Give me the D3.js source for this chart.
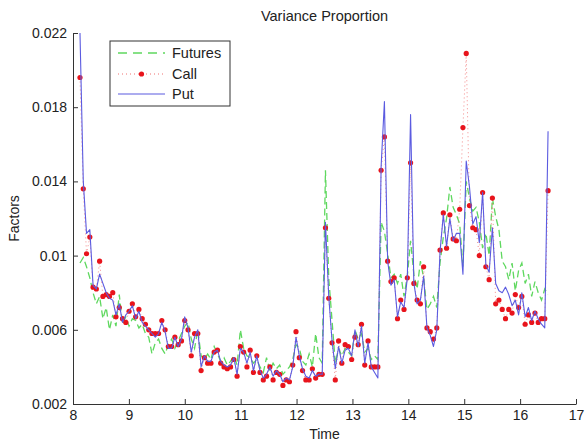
<!DOCTYPE html>
<html>
<head>
<meta charset="utf-8">
<script src="https://cdn.jsdelivr.net/npm/d3@7"></script>
<style>
  body { margin: 0; background: #fff; }
  text { font-family: "Liberation Sans", Arial, sans-serif; fill: #222; }
</style>
</head>
<body>
<svg id="chart" width="585" height="444"></svg>
<script>
// Sample times
const time = [
  8.125, 8.184, 8.242, 8.301, 8.359, 8.418, 8.476, 8.535, 8.594, 8.652,
  8.711, 8.769, 8.828, 8.886, 8.945, 9.003, 9.062, 9.121, 9.179, 9.238,
  9.296, 9.355, 9.413, 9.472, 9.531, 9.589, 9.648, 9.706, 9.765, 9.823,
  9.882, 9.941, 9.999, 10.058, 10.116, 10.175, 10.233, 10.292, 10.351, 10.409,
  10.468, 10.526, 10.585, 10.643, 10.702, 10.760, 10.819, 10.878, 10.936, 10.995,
  11.053, 11.112, 11.170, 11.229, 11.288, 11.346, 11.405, 11.463, 11.522, 11.580,
  11.639, 11.698, 11.756, 11.815, 11.873, 11.932, 11.990, 12.049, 12.107, 12.166,
  12.225, 12.283, 12.342, 12.400, 12.459, 12.517, 12.576, 12.635, 12.693, 12.752,
  12.810, 12.869, 12.927, 12.986, 13.045, 13.103, 13.162, 13.220, 13.279, 13.337,
  13.396, 13.455, 13.513, 13.572, 13.630, 13.689, 13.747, 13.806, 13.864, 13.923,
  13.982, 14.040, 14.099, 14.157, 14.216, 14.274, 14.333, 14.392, 14.450, 14.509,
  14.567, 14.626, 14.684, 14.743, 14.802, 14.860, 14.919, 14.977, 15.036, 15.094,
  15.153, 15.211, 15.270, 15.329, 15.387, 15.446, 15.504, 15.563, 15.621, 15.680,
  15.739, 15.797, 15.856, 15.914, 15.973, 16.031, 16.090, 16.149, 16.207, 16.266,
  16.324, 16.383, 16.441, 16.500
];

const futures = [
  0.0096, 0.0099, 0.0094, 0.0088, 0.0080, 0.0074, 0.0078, 0.0066, 0.0072, 0.0060,
  0.0068, 0.0062, 0.0079, 0.0063, 0.0067, 0.0062, 0.0066, 0.0065, 0.0061, 0.0063,
  0.0058, 0.0056, 0.0047, 0.0053, 0.0055, 0.0050, 0.0047, 0.0052, 0.0055, 0.0050,
  0.0054, 0.0058, 0.0062, 0.0064, 0.0055, 0.0050, 0.0060, 0.0046, 0.0044, 0.0047,
  0.0044, 0.0051, 0.0047, 0.0043, 0.0045, 0.0041, 0.0043, 0.0046, 0.0041, 0.0060,
  0.0050, 0.0046, 0.0045, 0.0042, 0.0044, 0.0040, 0.0037, 0.0045, 0.0038, 0.0042,
  0.0039, 0.0041, 0.0036, 0.0038, 0.0040, 0.0044, 0.0052, 0.0050, 0.0043, 0.0041,
  0.0047, 0.0040, 0.0058, 0.0045, 0.0042, 0.0146, 0.0088, 0.0065, 0.0042, 0.0050,
  0.0046, 0.0050, 0.0048, 0.0046, 0.0060, 0.0055, 0.0058, 0.0048, 0.0050, 0.0044,
  0.0046, 0.0044, 0.0118, 0.0113, 0.0101, 0.0088, 0.0090, 0.0085, 0.0090, 0.0078,
  0.0089, 0.0108, 0.0090, 0.0082, 0.0097, 0.0088, 0.0071, 0.0074, 0.0078, 0.0072,
  0.0096, 0.0110, 0.0120, 0.0137, 0.0126, 0.0122, 0.0117, 0.0094, 0.0140, 0.0131,
  0.0124, 0.0126, 0.0118, 0.0104, 0.0112, 0.0100, 0.0131, 0.0121, 0.0114, 0.0097,
  0.0094, 0.0087, 0.0096, 0.0081, 0.0092, 0.0096, 0.0085, 0.0090, 0.0078, 0.0086,
  0.0080, 0.0076, 0.0082, 0.0079
];

const call = [
  0.0196, 0.0136, 0.0101, 0.0110, 0.0083, 0.0082, 0.0097, 0.0078, 0.0079, 0.0078,
  0.0080, 0.0067, 0.0072, 0.0066, 0.0064, 0.0070, 0.0074, 0.0067, 0.0071, 0.0066,
  0.0063, 0.0060, 0.0058, 0.0058, 0.0058, 0.0065, 0.0060, 0.0051, 0.0051, 0.0056,
  0.0052, 0.0054, 0.0065, 0.0060, 0.0046, 0.0058, 0.0058, 0.0038, 0.0045, 0.0042,
  0.0042, 0.0048, 0.0049, 0.0042, 0.0040, 0.0039, 0.0040, 0.0044, 0.0035, 0.0051,
  0.0048, 0.0040, 0.0049, 0.0037, 0.0046, 0.0037, 0.0033, 0.0035, 0.0040, 0.0033,
  0.0037, 0.0036, 0.0030, 0.0033, 0.0032, 0.0041, 0.0059, 0.0045, 0.0038, 0.0033,
  0.0033, 0.0039, 0.0034, 0.0036, 0.0036, 0.0115, 0.0077, 0.0053, 0.0033, 0.0054,
  0.0042, 0.0052, 0.0051, 0.0044, 0.0056, 0.0052, 0.0063, 0.0041, 0.0054, 0.0040,
  0.0040, 0.0040, 0.0146, 0.0164, 0.0097, 0.0086, 0.0088, 0.0066, 0.0076, 0.0071,
  0.0088, 0.0150, 0.0085, 0.0076, 0.0074, 0.0094, 0.0061, 0.0059, 0.0055, 0.0061,
  0.0103, 0.0123, 0.0104, 0.0122, 0.0109, 0.0108, 0.0125, 0.0169, 0.0209, 0.0127,
  0.0115, 0.0114, 0.0100, 0.0134, 0.0094, 0.0087, 0.0131, 0.0074, 0.0076, 0.0071,
  0.0066, 0.0071, 0.0069, 0.0079, 0.0072, 0.0078, 0.0063, 0.0068, 0.0064, 0.0069,
  0.0064, 0.0066, 0.0066, 0.0135
];

const put = [
  0.0220, 0.0140, 0.0112, 0.0114, 0.0084, 0.0082, 0.0090, 0.0085, 0.0080, 0.0077,
  0.0076, 0.0068, 0.0074, 0.0064, 0.0068, 0.0070, 0.0073, 0.0066, 0.0070, 0.0064,
  0.0062, 0.0060, 0.0058, 0.0056, 0.0058, 0.0064, 0.0059, 0.0050, 0.0050, 0.0056,
  0.0051, 0.0055, 0.0067, 0.0061, 0.0048, 0.0056, 0.0060, 0.0040, 0.0046, 0.0043,
  0.0043, 0.0048, 0.0049, 0.0043, 0.0041, 0.0040, 0.0041, 0.0045, 0.0036, 0.0050,
  0.0048, 0.0042, 0.0048, 0.0038, 0.0046, 0.0038, 0.0034, 0.0036, 0.0040, 0.0035,
  0.0038, 0.0036, 0.0032, 0.0034, 0.0033, 0.0040, 0.0056, 0.0046, 0.0039, 0.0035,
  0.0034, 0.0038, 0.0035, 0.0036, 0.0036, 0.0118, 0.0078, 0.0054, 0.0039, 0.0051,
  0.0042, 0.0049, 0.0050, 0.0046, 0.0060, 0.0051, 0.0062, 0.0042, 0.0053, 0.0040,
  0.0037, 0.0034, 0.0148, 0.0183, 0.0097, 0.0084, 0.0087, 0.0067, 0.0075, 0.0072,
  0.0088, 0.0176, 0.0085, 0.0074, 0.0076, 0.0089, 0.0061, 0.0057, 0.0051, 0.0060,
  0.0102, 0.0122, 0.0105, 0.0120, 0.0108, 0.0112, 0.0112, 0.0090, 0.0151, 0.0137,
  0.0117, 0.0121, 0.0107, 0.0134, 0.0095, 0.0091, 0.0115, 0.0085, 0.0081, 0.0080,
  0.0083, 0.0079, 0.0073, 0.0076, 0.0068, 0.0080, 0.0067, 0.0072, 0.0065, 0.0070,
  0.0066, 0.0063, 0.0061, 0.0167
];

const xTicks = [8, 9, 10, 11, 12, 13, 14, 15, 16, 17];
const yTicks = [0.002, 0.006, 0.01, 0.014, 0.018, 0.022];
const yTickLabels = ["0.002", "0.006", "0.01", "0.014", "0.018", "0.022"];
const seriesNames = ["Futures", "Call", "Put"];

const colors = { futures: "#5fd85f", call: "#e8141c", callLine: "#f07070", put: "#5b5be0" };

const svg = d3.select("#chart");
const x = d3.scaleLinear().domain([8, 17]).range([73, 576]);
const y = d3.scaleLinear().domain([0.002, 0.022]).range([404, 33]);

// Axes (MATLAB-style inward ticks, left and bottom only)
const yAxis = svg.append("g")
  .attr("transform", `translate(${x(8)},0)`)
  .call(d3.axisLeft(y).tickValues(yTicks).tickFormat((d, i) => yTickLabels[i])
    .tickSizeInner(-5).tickSizeOuter(0).tickPadding(6));
const xAxis = svg.append("g")
  .attr("transform", `translate(0,${y(0.002)})`)
  .call(d3.axisBottom(x).tickValues(xTicks).tickFormat(d3.format("d"))
    .tickSizeInner(-5).tickSizeOuter(0).tickPadding(6));
[yAxis, xAxis].forEach(g => {
  g.selectAll("path, line").attr("stroke", "#333").attr("stroke-width", 1);
  g.selectAll("text").attr("font-size", 14).attr("fill", "#222");
});

// Series
const line = d3.line().x((d, i) => x(time[i])).y(d => y(d));
const plot = svg.append("g");

plot.append("path").datum(futures)
  .attr("d", line).attr("fill", "none")
  .attr("stroke", colors.futures).attr("stroke-width", 1.3)
  .attr("stroke-dasharray", "7,4");

plot.append("path").datum(call)
  .attr("d", line).attr("fill", "none")
  .attr("stroke", colors.callLine).attr("stroke-width", 1)
  .attr("stroke-dasharray", "1,3").attr("opacity", 0.8);

plot.selectAll("circle.call").data(call).join("circle")
  .attr("class", "call")
  .attr("cx", (d, i) => x(time[i])).attr("cy", d => y(d))
  .attr("r", 2.6).attr("fill", colors.call);

plot.append("path").datum(put)
  .attr("d", line).attr("fill", "none")
  .attr("stroke", colors.put).attr("stroke-width", 1.1)
  .attr("stroke-linejoin", "round");

// Title and axis labels
svg.append("text").attr("x", (x(8) + x(17)) / 2).attr("y", 21)
  .attr("text-anchor", "middle").attr("font-size", 14.5).text("Variance Proportion");
svg.append("text").attr("x", (x(8) + x(17)) / 2).attr("y", 439)
  .attr("text-anchor", "middle").attr("font-size", 14).text("Time");
svg.append("text").attr("transform", `translate(19,${(y(0.002) + y(0.022)) / 2}) rotate(-90)`)
  .attr("text-anchor", "middle").attr("font-size", 14).text("Factors");

// Legend
const legend = svg.append("g");
legend.append("rect").attr("x", 110).attr("y", 41).attr("width", 120).attr("height", 65)
  .attr("fill", "#fff").attr("stroke", "#333").attr("stroke-width", 1);
const rowsY = [53, 74, 94];
const lx0 = 118, lx1 = 165;
legend.append("line").attr("x1", lx0).attr("x2", lx1).attr("y1", rowsY[0]).attr("y2", rowsY[0])
  .attr("stroke", colors.futures).attr("stroke-width", 1.3).attr("stroke-dasharray", "9,6");
legend.append("line").attr("x1", lx0).attr("x2", lx1).attr("y1", rowsY[1]).attr("y2", rowsY[1])
  .attr("stroke", colors.callLine).attr("stroke-width", 1).attr("stroke-dasharray", "1,3");
legend.append("circle").attr("cx", (lx0 + lx1) / 2).attr("cy", rowsY[1]).attr("r", 2.6)
  .attr("fill", colors.call);
legend.append("line").attr("x1", lx0).attr("x2", lx1).attr("y1", rowsY[2]).attr("y2", rowsY[2])
  .attr("stroke", colors.put).attr("stroke-width", 1.1);
seriesNames.forEach((name, i) => {
  legend.append("text").attr("x", 172).attr("y", rowsY[i]).attr("dy", "0.35em")
    .attr("font-size", 14.5).text(name);
});
</script>
</body>
</html>
